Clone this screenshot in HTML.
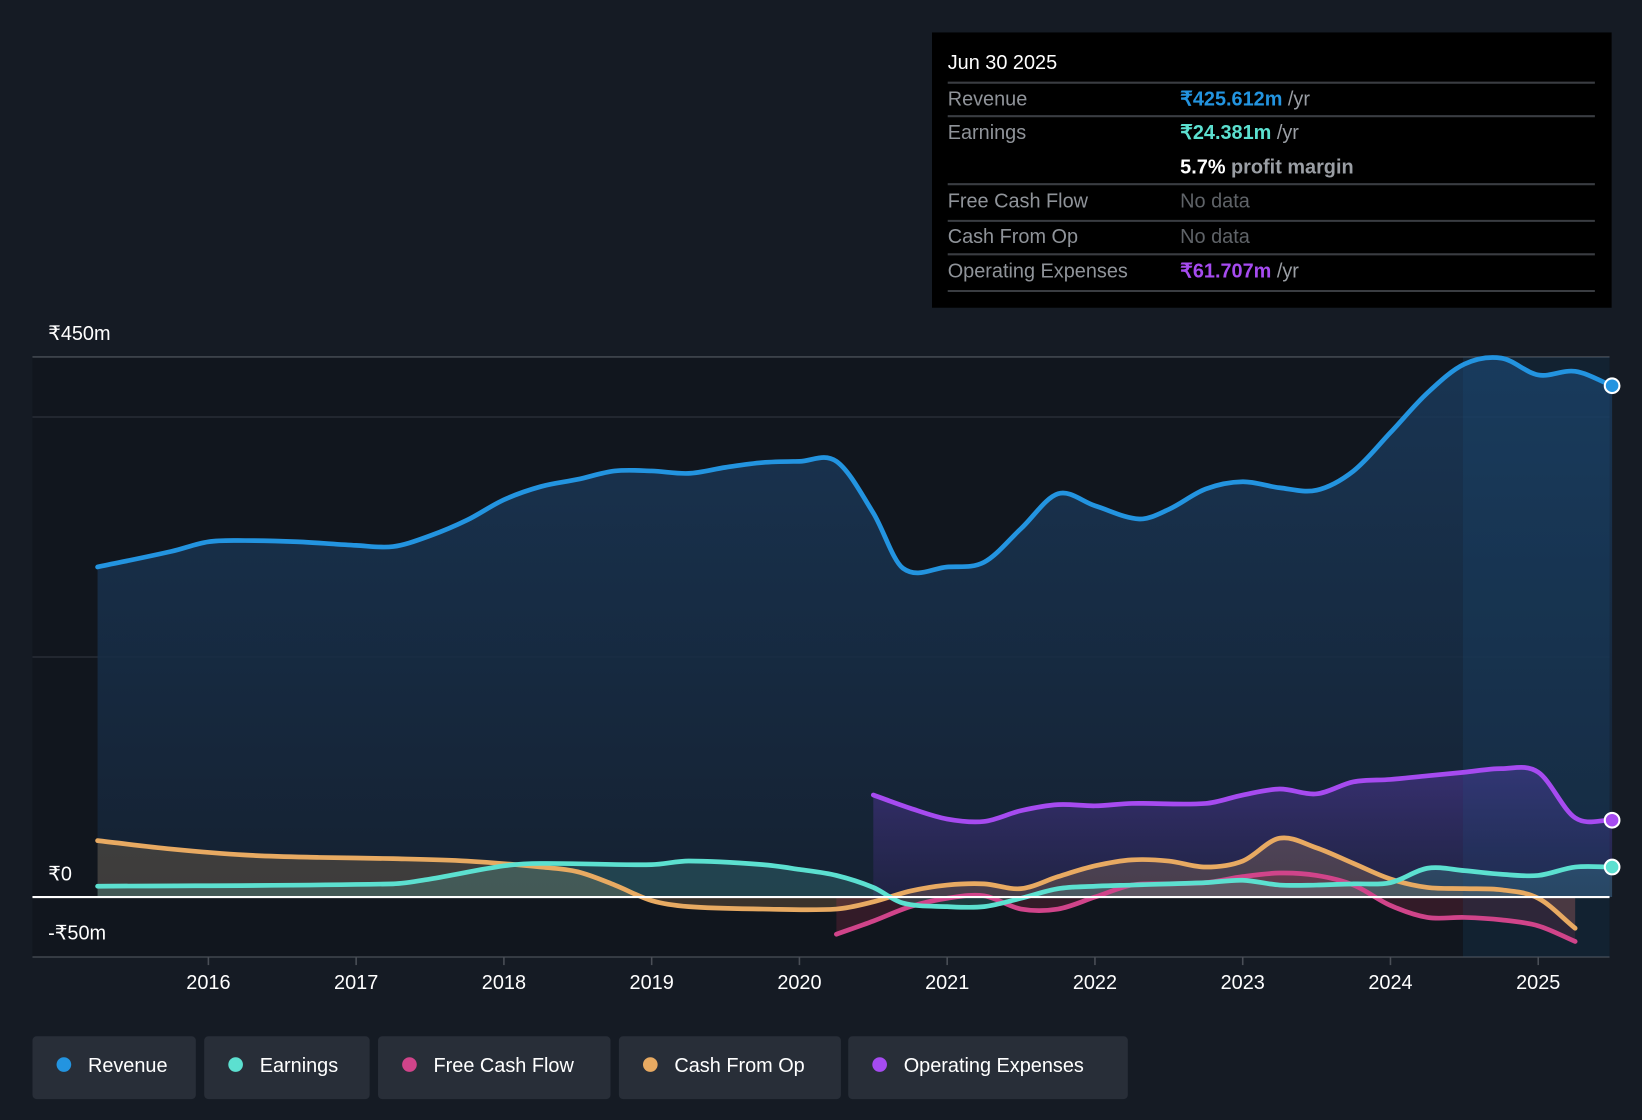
<!DOCTYPE html>
<html><head><meta charset="utf-8">
<style>
html,body{margin:0;padding:0;background:#151b24;}
svg{display:block;}
text{font-family:"Liberation Sans",sans-serif;}
</style></head>
<body>
<svg id="chart" width="1642" height="1120" viewBox="0 0 1568 1070" preserveAspectRatio="none" xmlns="http://www.w3.org/2000/svg">
<defs>
<linearGradient id="revFill" x1="0" y1="0" x2="0" y2="1"><stop offset="0" stop-color="#1a3a5c" stop-opacity="0.85"/><stop offset="1" stop-color="#152233" stop-opacity="0.9"/></linearGradient>
<linearGradient id="opxFill" x1="0" y1="0" x2="0" y2="1"><stop offset="0" stop-color="#5a3aa8" stop-opacity="0.5"/><stop offset="1" stop-color="#3a2a70" stop-opacity="0.3"/></linearGradient>
</defs>
<rect x="0" y="0" width="1568" height="1070" fill="#151b24"/>
<rect x="31" y="341" width="1506" height="573" fill="#11161e"/>
<g id="grid"></g>
<g id="areas"></g>
<rect x="1397" y="341" width="140" height="573" fill="#1e5a8a" opacity="0.18"/>
<g id="lines"></g>
<g id="axes"></g>
<g>
<rect x="890" y="31" width="649" height="263" fill="#000"/>
<text x="905" y="66" fill="#fff" font-size="19">Jun 30 2025</text>
<g stroke="#3a3d42" stroke-width="2">
<line x1="905" x2="1523" y1="79" y2="79"/><line x1="905" x2="1523" y1="111" y2="111"/>
<line x1="905" x2="1523" y1="176" y2="176"/><line x1="905" x2="1523" y1="211" y2="211"/>
<line x1="905" x2="1523" y1="243" y2="243"/><line x1="905" x2="1523" y1="278" y2="278"/></g>
<g font-size="19" fill="#8f9399">
<text x="905" y="101">Revenue</text><text x="905" y="133">Earnings</text>
<text x="905" y="198">Free Cash Flow</text><text x="905" y="232">Cash From Op</text>
<text x="905" y="265">Operating Expenses</text></g>
<text x="1127" y="101" font-size="19" font-weight="bold" fill="#2394e0">₹425.612m <tspan fill="#9a9ea4" font-weight="normal">/yr</tspan></text>
<text x="1127" y="133" font-size="19" font-weight="bold" fill="#5ce0d0">₹24.381m <tspan fill="#9a9ea4" font-weight="normal">/yr</tspan></text>
<text x="1127" y="166" font-size="19" font-weight="bold" fill="#fff">5.7% <tspan fill="#9a9ea4">profit margin</tspan></text>
<text x="1127" y="198" font-size="19" fill="#5f6368">No data</text>
<text x="1127" y="232" font-size="19" fill="#5f6368">No data</text>
<text x="1127" y="265" font-size="19" font-weight="bold" fill="#a64bf0">₹61.707m <tspan fill="#9a9ea4" font-weight="normal">/yr</tspan></text>
</g>
<g id="legend"></g>
</svg>
<script>
const years=[2016,2017,2018,2019,2020,2021,2022,2023,2024,2025];
const yTickVals=[450,0,-50];
const yTickLabels=["₹450m","₹0","-₹50m"];
const gridVals=[450,400,200,-50];
const revT=[2015.25,2015.75,2016.0,2016.25,2016.6,2017.0,2017.25,2017.5,2017.75,2018.0,2018.25,2018.5,2018.75,2019.0,2019.25,2019.5,2019.75,2020.0,2020.25,2020.5,2020.7,2021.0,2021.25,2021.5,2021.75,2022.0,2022.3,2022.5,2022.75,2023.0,2023.25,2023.5,2023.75,2024.0,2024.25,2024.5,2024.75,2025.0,2025.25,2025.5];
const revV=[275,288,296,297,296,293,292,301,314,331,342,348,355,355,353,358,362,363,363,320,274,275,279,307,336,326,315,323,340,346,341,339,355,387,420,444,449,435,438,426];
const earnT=[2015.25,2017.25,2017.5,2018.0,2018.25,2019.0,2019.25,2019.75,2020.0,2020.25,2020.5,2020.7,2021.0,2021.25,2021.5,2021.75,2022.0,2022.25,2022.5,2022.75,2023.0,2023.25,2023.5,2023.75,2024.0,2024.25,2024.5,2024.75,2025.0,2025.25,2025.5];
const earnV=[9,11,15,26,28,27,30,27,23,18,8,-5,-8,-8,-1,7,9,10,11,12,14,10,10,11,12,24,22,19,18,25,25];
const cfoT=[2015.25,2015.75,2016.25,2016.75,2017.25,2017.75,2018.25,2018.5,2018.75,2019.0,2019.25,2019.75,2020.25,2020.5,2020.75,2021.0,2021.25,2021.5,2021.75,2022.0,2022.25,2022.5,2022.75,2023.0,2023.25,2023.5,2023.75,2024.0,2024.25,2024.5,2024.75,2025.0,2025.25];
const cfoV=[47,40,35,33,32,30,25,21,10,-3,-8,-10,-10,-4,5,10,11,7,17,26,31,30,25,30,49,41,28,15,8,7,6,-1,-26];
const fcfT=[2020.25,2020.5,2020.75,2021.0,2021.25,2021.5,2021.75,2022.0,2022.25,2022.5,2022.75,2023.0,2023.25,2023.5,2023.75,2024.0,2024.25,2024.5,2024.75,2025.0,2025.25];
const fcfV=[-31,-20,-8,-1,1,-10,-10,0,10,11,12,17,20,18,10,-7,-17,-17,-19,-24,-37];
const opxT=[2020.5,2020.75,2021.0,2021.25,2021.5,2021.75,2022.0,2022.25,2022.75,2023.0,2023.25,2023.5,2023.75,2024.0,2024.25,2024.5,2024.75,2025.0,2025.25,2025.5];
const opxV=[85,74,65,63,72,77,76,78,78,85,90,86,96,98,101,104,107,104,66,64];
const legendLabels=["Revenue","Earnings","Free Cash Flow","Cash From Op","Operating Expenses"];

const NS="http://www.w3.org/2000/svg";
const X=t=>199+(t-2016)*141.1;
const Y=v=>857-v*(516/450);
function el(tag,attrs,parent){const e=document.createElementNS(NS,tag);for(const k in attrs)e.setAttribute(k,attrs[k]);parent.appendChild(e);return e;}
function smooth(pts){
 const n=pts.length,m=[];
 for(let i=0;i<n;i++){const a=pts[Math.max(0,i-1)],b=pts[Math.min(n-1,i+1)];m.push((b[1]-a[1])/(b[0]-a[0]));}
 let d="M"+pts[0][0]+","+pts[0][1];
 for(let i=0;i<n-1;i++){const p1=pts[i],p2=pts[i+1],dx=(p2[0]-p1[0])/3;
  d+=` C${p1[0]+dx},${p1[1]+m[i]*dx} ${p2[0]-dx},${p2[1]-m[i+1]*dx} ${p2[0]},${p2[1]}`;}
 return d;}
const grid=document.getElementById('grid'),areas=document.getElementById('areas'),lines=document.getElementById('lines'),axes=document.getElementById('axes'),legend=document.getElementById('legend');
gridVals.forEach(v=>{const g=el('line',{x1:31,x2:1537,y1:Y(v),y2:Y(v),stroke:v===450||v===-50?'#4a4f57':'#2c323b','stroke-width':1.2},grid);

});
yTickVals.forEach((v,i)=>{const t=el('text',{x:46,y:Y(v)-16,fill:'#fff','font-size':19},axes);if(v<0)t.setAttribute('y',Y(v)-17);t.textContent=yTickLabels[i];

});
years.forEach(y=>{const tk=el('line',{x1:X(y),x2:X(y),y1:914,y2:922,stroke:'#4a4f57','stroke-width':1.5},axes);


const t=el('text',{x:X(y),y:945,fill:'#fff','font-size':19,'text-anchor':'middle'},axes);t.textContent=y;

});
const series=[
 {n:'revenue',T:revT,V:revV,c:'#2394e0',fill:'url(#revFill)',fo:1},
 {n:'operating-expenses',T:opxT,V:opxV,c:'#a64bf0',fill:'url(#opxFill)',fo:1},
 {n:'cash-from-op',T:cfoT,V:cfoV,c:'#e8aa62',fill:'#e8aa62',fo:0.2},
 {n:'free-cash-flow',T:fcfT,V:fcfV,c:'#d0448a',fill:'#c03050',fo:0.2},
 {n:'earnings',T:earnT,V:earnV,c:'#5ce0d0',fill:'#5ce0d0',fo:0.18}];
series.forEach(s=>{const pts=s.T.map((t,i)=>[X(t),Y(s.V[i])]);const d=smooth(pts);
const a=el('path',{d:d+` L${pts[pts.length-1][0]},${Y(0)} L${pts[0][0]},${Y(0)} Z`,fill:s.fill,'fill-opacity':s.fo},areas);


const l=el('path',{d:d,fill:'none',stroke:s.c,'stroke-width':4.5,'stroke-linecap':'round'},lines);


if(s.T[s.T.length-1]>=2025.5){const c=el('circle',{cx:pts[pts.length-1][0],cy:pts[pts.length-1][1],r:7,fill:s.c,stroke:'#fff','stroke-width':2},lines);

}});
const zl=el('line',{x1:31,x2:1537,y1:Y(0),y2:Y(0),stroke:'#fff','stroke-width':2},lines);


const lc=['#2394e0','#5ce0d0','#d0448a','#e8aa62','#a64bf0'];
const lx=[31,195,361,591,810],lw=[156,158,222,212,267];
legendLabels.forEach((lab,i)=>{const g=el('g',{},legend);


el('rect',{x:lx[i],y:990,width:lw[i],height:60,rx:4,fill:'#282e38'},g);
el('circle',{cx:lx[i]+30,cy:1017,r:7,fill:lc[i]},g);
const t=el('text',{x:lx[i]+53,y:1024,fill:'#fff','font-size':19},g);t.textContent=lab;});
</script>
</body></html>
